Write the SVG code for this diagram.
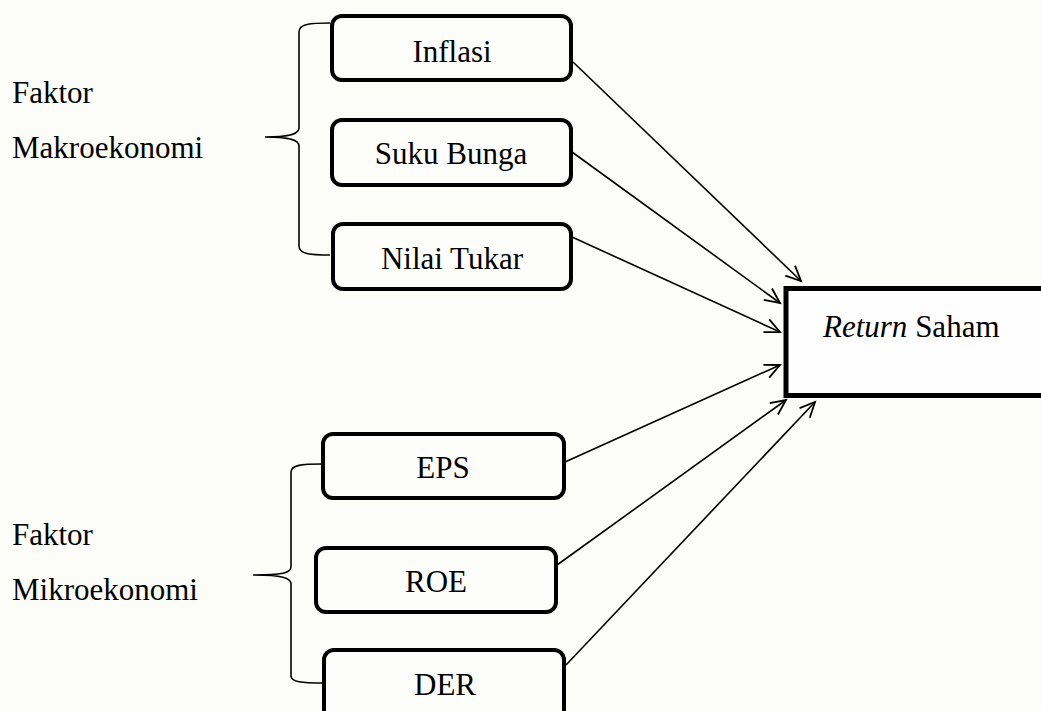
<svg xmlns="http://www.w3.org/2000/svg" width="1041" height="711" viewBox="0 0 1041 711">
<style>
.bg{fill:#fcfdf9}
.box{fill:#fdfefb;stroke:#000;stroke-width:4}
.main{fill:#fefefe;stroke:#000;stroke-width:5}
.t{font-family:"Liberation Serif","Times New Roman",serif;font-size:31px;fill:#000}
.c{text-anchor:middle}
.edge{fill:none;stroke:#000;stroke-width:1.6}
.brace{fill:none;stroke:#000;stroke-width:1.6}
</style>
<defs>
<marker id="arr" markerUnits="userSpaceOnUse" markerWidth="24" markerHeight="24" refX="16" refY="8" orient="auto" viewBox="0 0 24 16">
<path d="M1,1 L16,8 L1,15" fill="none" stroke="#000" stroke-width="1.8"/>
</marker>
</defs>
<rect class="bg" x="0" y="0" width="1041" height="711"/>
<g id="label-makro">
<text class="t" x="12" y="103">Faktor</text>
<text class="t" x="12" y="158">Makroekonomi</text>
<path class="brace" d="M330,23 C310,23 299,24 299,32 L299,128 C299,134 290,137 265,137 C290,137 299,140 299,146 L299,246 C299,254 310,255 330,255"/>
</g>
<g id="label-mikro">
<text class="t" x="12" y="545">Faktor</text>
<text class="t" x="12" y="600">Mikroekonomi</text>
<path class="brace" d="M322,464 C302,464 291,465 291,472 L291,567 C291,573 282,575 253,575 C282,575 291,578 291,584 L291,676 C291,682 302,683 323,683"/>
</g>
<g id="connectors">
<line class="edge" x1="573" y1="62" x2="801" y2="281" marker-end="url(#arr)"/>
<line class="edge" x1="572" y1="152" x2="780" y2="303" marker-end="url(#arr)"/>
<line class="edge" x1="572" y1="237" x2="780" y2="332" marker-end="url(#arr)"/>
<line class="edge" x1="565" y1="462" x2="780" y2="365" marker-end="url(#arr)"/>
<line class="edge" x1="557" y1="565" x2="786" y2="400" marker-end="url(#arr)"/>
<line class="edge" x1="566" y1="665" x2="815" y2="402" marker-end="url(#arr)"/>
</g>
<g id="inflasi">
<rect class="box" x="332" y="16" width="239" height="64" rx="10"/>
<text class="t c" x="452" y="62">Inflasi</text>
</g>
<g id="suku-bunga">
<rect class="box" x="332" y="120" width="239" height="65" rx="10"/>
<text class="t c" x="451" y="164">Suku Bunga</text>
</g>
<g id="nilai-tukar">
<rect class="box" x="333" y="224" width="238" height="65" rx="10"/>
<text class="t c" x="452" y="269">Nilai Tukar</text>
</g>
<g id="eps">
<rect class="box" x="323" y="434" width="241" height="64" rx="10"/>
<text class="t c" x="443" y="478">EPS</text>
</g>
<g id="roe">
<rect class="box" x="316" y="548" width="240" height="64" rx="10"/>
<text class="t c" x="436" y="592">ROE</text>
</g>
<g id="der">
<rect class="box" x="324" y="650" width="240" height="70" rx="10"/>
<text class="t c" x="445" y="695">DER</text>
</g>
<g id="return-saham">
<rect class="main" x="786" y="288.5" width="270" height="107"/>
<text class="t" x="823" y="337"><tspan font-style="italic">Return</tspan> Saham</text>
</g>
</svg>
